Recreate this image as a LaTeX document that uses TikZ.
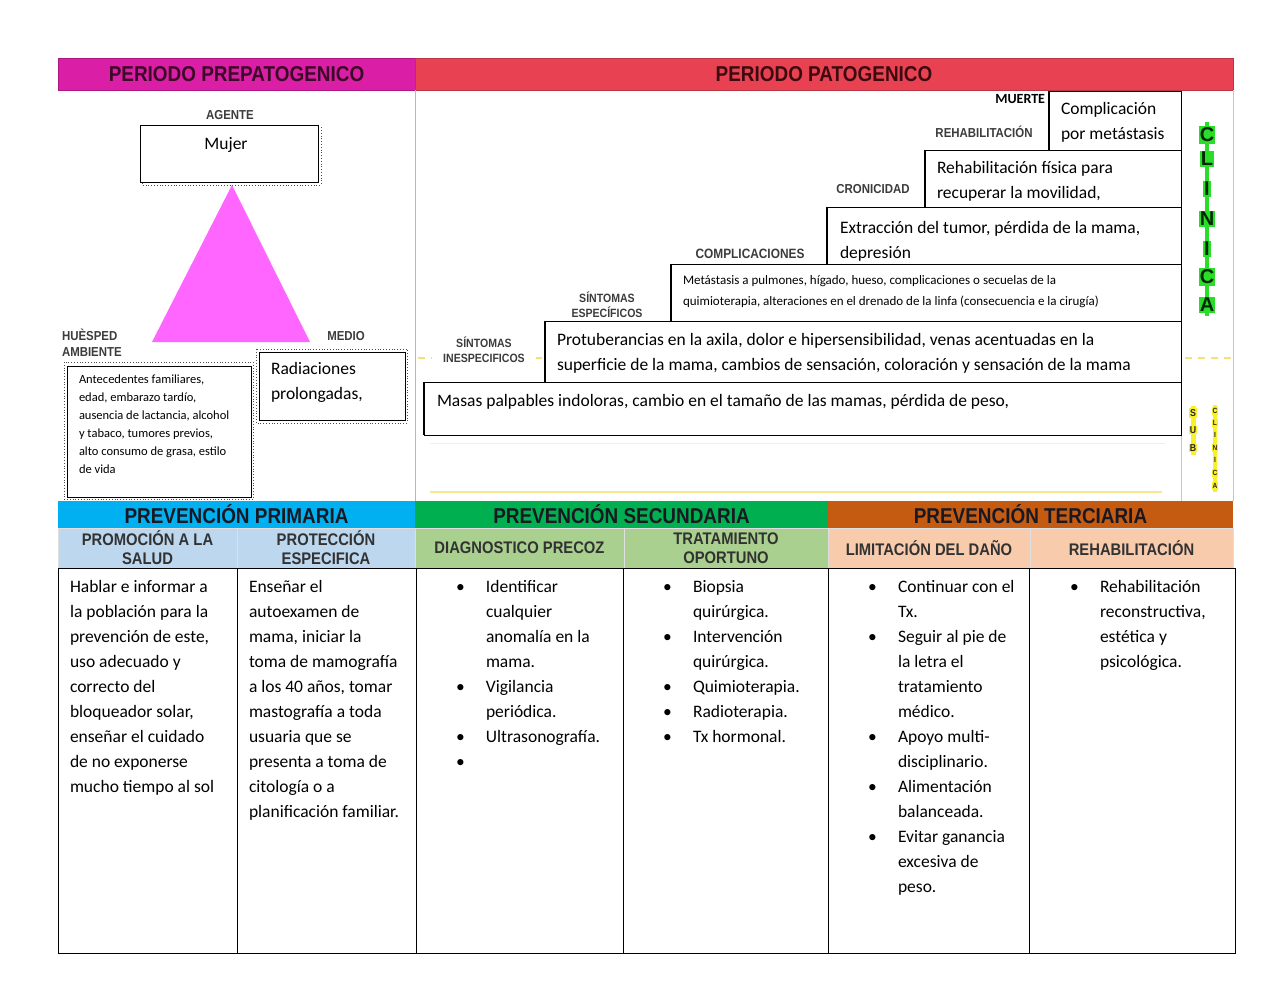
\documentclass[tikz,border=0pt]{standalone}
\usepackage{fontspec}
\setmainfont{Carlito}
\newfontfamily\hdr[FakeStretch=0.88]{Liberation Sans}
\newfontfamily\hdrw{Liberation Sans}
\definecolor{magH}{RGB}{218,30,165}
\definecolor{redH}{RGB}{232,66,82}
\definecolor{magT}{RGB}{60,8,40}
\definecolor{redT}{RGB}{60,10,15}
\definecolor{triP}{RGB}{255,102,255}
\definecolor{labG}{RGB}{60,60,60}
\definecolor{blueP}{RGB}{0,176,240}
\definecolor{greenP}{RGB}{0,176,80}
\definecolor{orangeP}{RGB}{197,90,17}
\definecolor{blueL}{RGB}{189,215,238}
\definecolor{greenL}{RGB}{169,208,142}
\definecolor{orangeL}{RGB}{248,203,173}
\definecolor{clinG}{RGB}{40,222,40}
\definecolor{yelH}{RGB}{250,240,40}
\definecolor{yelL}{RGB}{245,225,120}
\definecolor{bandT}{RGB}{25,25,35}
\definecolor{subT}{RGB}{50,50,50}
\newcommand{\bul}{\makebox[30pt][l]{\textbullet}}
\newcommand{\ind}{\hspace*{30pt}}
\newcommand{\stb}{\rule{0pt}{14pt}}
\newcommand{\sts}{\rule{0pt}{10.5pt}}
\newcommand{\stt}{\rule{0pt}{10pt}}
\tikzset{
  every node/.style={inner sep=0pt, outer sep=0pt},
  band/.style={font=\hdr\bfseries\fontsize{21.5}{21.5}\selectfont, text=bandT},
  subband/.style={font=\hdr\bfseries\fontsize{16.8}{19}\selectfont, text=subT, align=center, draw=white!75!gray, line width=0.6pt},
  lbl/.style={font=\hdr\bfseries\fontsize{13}{15.5}\selectfont, text=labG, align=center},
  lbls/.style={font=\hdr\bfseries\fontsize{12}{15}\selectfont, text=labG, align=center},
  box/.style={draw=black, line width=1pt, fill=white, anchor=north west},
  shadowbox/.style={draw=black!70, dotted, line width=0.8pt},
  body/.style={font=\fontsize{17.5}{25}\selectfont, align=left, anchor=north west},
  small/.style={font=\fontsize{13}{21}\selectfont, align=left, anchor=north west},
  tiny/.style={font=\fontsize{12.5}{18}\selectfont, align=left, anchor=north west},
  cell/.style={draw=black, line width=1pt, anchor=north west, minimum height=385pt},
  bigl/.style={font=\hdrw\bfseries\fontsize{20}{20}\selectfont, fill=clinG, text=black!85!green, inner xsep=1pt, inner ysep=1.5pt},
  subl/.style={fill=yelH, text=black!85, inner sep=1pt},
  thickedge/.style={line width=2pt, black},
}
\begin{document}
\begin{tikzpicture}[x=1pt,y=-1pt]
\useasboundingbox (0,0) rectangle (1280,989);
\fill[white] (0,0) rectangle (1280,989);

% ---------- top header bands
\node[band, fill=magH, draw=magH!80!black, line width=0.6pt, minimum width=357pt, minimum height=32pt, text=magT] (pre) at (236.5,74) {PERIODO PREPATOGENICO};
\node[band, fill=redH, draw=redH!80!black, line width=0.6pt, minimum width=818pt, minimum height=32pt, text=redT] (pat) at (824,74) {PERIODO PATOGENICO};

% panel lines
\draw[gray!55, line width=1pt] (415,90) -- (415,501);
\draw[gray!45, line width=0.8pt] (1233,90) -- (1233,501);
\draw[gray!45, line width=0.8pt] (1181,91) -- (1181,501);

% ---------- prepatogenico
\node[lbl] (agente) at (230,115) {AGENTE};
\draw[shadowbox] (142,127) rectangle (321,185);
\node[box, minimum width=178pt, minimum height=57pt] (mujerB) at (140,125) {};
\node[font=\fontsize{17.5}{25}\selectfont, anchor=base] (mujer) at (226,149) {Mujer};
\fill[triP] (232,185) -- (310,342) -- (152,342) -- cycle;
\node[lbl, align=left, anchor=north west] (huesped) at (62,329) {HUÈSPED\\AMBIENTE};
\node[lbl] (medio) at (346,336) {MEDIO};
\draw[shadowbox] (64,362) rectangle (253,499);
\node[box, minimum width=184pt, minimum height=131pt] (antB) at (67,366) {};
\node[tiny] (ant) at (79,373) {\stt Antecedentes familiares,\\edad, embarazo tardío,\\ausencia de lactancia, alcohol\\y tabaco, tumores previos,\\alto consumo de grasa, estilo\\de vida};
\draw[shadowbox] (256,349) rectangle (407,423);
\node[box, minimum width=146pt, minimum height=68pt] (radB) at (259,352) {};
\node[body] (rad) at (271,360) {\stb Radiaciones\\prolongadas,};

% ---------- patogenico
\draw[yelL, dashed, dash pattern=on 7pt off 6pt, line width=1.5pt] (418,358) -- (1233,358);
\draw[yelL!45, line width=1pt] (430,443) -- (1165,443);
\draw[yelL!80, line width=1.5pt] (430,492) -- (1162,492);

\node[lbls, fill=white, minimum width=104pt, minimum height=36pt] (sinI) at (484,350) {SÍNTOMAS\\INESPECIFICOS};
\node[lbls] (sinE) at (607,305) {SÍNTOMAS\\ESPECÍFICOS};
\node[lbl, font=\hdr\bfseries\fontsize{13.5}{15}\selectfont] (compl) at (750,254) {COMPLICACIONES};
\node[lbl] (cron) at (873,189) {CRONICIDAD};
\node[lbl] (rehab) at (984,132) {REHABILITACIÓN};
\node[font=\bfseries\fontsize{14}{14}\selectfont, anchor=base east] (muerte) at (1045,103) {MUERTE};

\node[box, minimum width=132pt, minimum height=59pt] (compB) at (1049,91) {};
\node[box, minimum width=256pt, minimum height=57pt] (rehaB) at (925,150) {};
\node[box, minimum width=354pt, minimum height=57pt] (extrB) at (827,207) {};
\node[box, minimum width=510pt, minimum height=57pt] (metaB) at (671,264) {};
\node[box, minimum width=636pt, minimum height=61pt] (protB) at (545,321) {};
\node[box, minimum width=757pt, minimum height=53pt] (masB) at (424,382) {};
\foreach \b in {compB,rehaB,extrB,metaB,protB,masB}{
  \draw[thickedge] (\b.north west) -- (\b.south west);
}
\node[body] (comp) at (1061,100) {\stb Complicación\\por metástasis};
\node[body] (reha) at (937,159) {\stb Rehabilitación física para\\recuperar la movilidad,};
\node[body] (extr) at (840,219) {\stb Extracción del tumor, pérdida de la mama,\\depresión};
\node[small] (meta) at (683,273.5) {\sts Metástasis a pulmones, hígado, hueso, complicaciones o secuelas de la\\quimioterapia, alteraciones en el drenado de la linfa (consecuencia e la cirugía)};
\node[body] (prot) at (557,331) {\stb Protuberancias en la axila, dolor e hipersensibilidad, venas acentuadas en la\\superficie de la mama, cambios de sensación, coloración y sensación de la mama};
\node[body] (mas) at (437,392) {\stb Masas palpables indoloras, cambio en el tamaño de las mamas, pérdida de peso,};

% CLINICA column
\draw[clinG, line width=4pt] (1207,122) -- (1207,316);
\foreach \l/\y [count=\i] in {C/135,L/159,I/189,N/219,I/249,C/277,A/305}{
  \node[bigl] (cl\i) at (1207,\y) {\l};
}
\draw[yelH, line width=5pt] (1193,406) -- (1193,455);
\foreach \l/\y [count=\i] in {S/413,U/430,B/448}{
  \node[subl, font=\hdr\bfseries\fontsize{10}{10}\selectfont] (sb\i) at (1193,\y) {\l};
}
\draw[yelH, line width=4.5pt] (1215,405) -- (1215,492);
\foreach \l/\y [count=\i] in {C/411,L/423,I/435,N/448,I/460,C/473,A/486}{
  \node[subl, font=\hdr\bfseries\fontsize{7.5}{8}\selectfont] (sc\i) at (1215,\y) {\l};
}

% ---------- prevention bands
\node[band, fill=blueP, minimum width=357pt, minimum height=27pt] (pp) at (236.5,514.5) {PREVENCIÓN PRIMARIA};
\node[band, fill=greenP, minimum width=413pt, minimum height=27pt] (ps) at (621.5,514.5) {PREVENCIÓN SECUNDARIA};
\node[band, fill=orangeP, minimum width=405pt, minimum height=27pt] (pt) at (1030.5,514.5) {PREVENCIÓN TERCIARIA};

\node[subband, fill=blueL, minimum width=179pt, minimum height=40pt] (s1) at (147.5,548) {PROMOCIÓN A LA\\SALUD};
\node[subband, fill=blueL, minimum width=178pt, minimum height=40pt] (s2) at (326,548) {PROTECCIÓN\\ESPECIFICA};
\node[subband, fill=greenL, minimum width=209pt, minimum height=40pt] (s3) at (519.5,548) {DIAGNOSTICO PRECOZ};
\node[subband, fill=greenL, minimum width=204pt, minimum height=40pt] (s4) at (726,548) {TRATAMIENTO\\OPORTUNO};
\node[subband, fill=orangeL, minimum width=202pt, minimum height=40pt] (s5) at (929,548) {LIMITACIÓN DEL DAÑO};
\node[subband, fill=orangeL, minimum width=203pt, minimum height=40pt] (s6) at (1131.5,548) {REHABILITACIÓN};

% ---------- table
\node[cell, minimum width=179pt] (c1) at (58,568) {};
\node[cell, minimum width=179pt] (c2) at (237,568) {};
\node[cell, minimum width=207pt] (c3) at (416,568) {};
\node[cell, minimum width=205pt] (c4) at (623,568) {};
\node[cell, minimum width=201pt] (c5) at (828,568) {};
\node[cell, minimum width=206pt] (c6) at (1029,568) {};

\node[body] (t1) at (70,578) {\stb Hablar e informar a\\la población para la\\prevención de este,\\uso adecuado y\\correcto del\\bloqueador solar,\\enseñar el cuidado\\de no exponerse\\mucho tiempo al sol};
\node[body] (t2) at (249,578) {\stb Enseñar el\\autoexamen de\\mama, iniciar la\\toma de mamografía\\a los 40 años, tomar\\mastografía a toda\\usuaria que se\\presenta a toma de\\citología o a\\planificación familiar.};
\node[body] (t3) at (456,578) {\stb\bul Identificar\\\ind cualquier\\\ind anomalía en la\\\ind mama.\\\bul Vigilancia\\\ind periódica.\\\bul Ultrasonografía.\\\bul};
\node[body] (t4) at (663,578) {\stb\bul Biopsia\\\ind quirúrgica.\\\bul Intervención\\\ind quirúrgica.\\\bul Quimioterapia.\\\bul Radioterapia.\\\bul Tx hormonal.};
\node[body] (t5) at (868,578) {\stb\bul Continuar con el\\\ind Tx.\\\bul Seguir al pie de\\\ind la letra el\\\ind tratamiento\\\ind médico.\\\bul Apoyo multi-\\\ind disciplinario.\\\bul Alimentación\\\ind balanceada.\\\bul Evitar ganancia\\\ind excesiva de\\\ind peso.};
\node[body] (t6) at (1070,578) {\stb\bul Rehabilitación\\\ind reconstructiva,\\\ind estética y\\\ind psicológica.};
\end{tikzpicture}
\end{document}
